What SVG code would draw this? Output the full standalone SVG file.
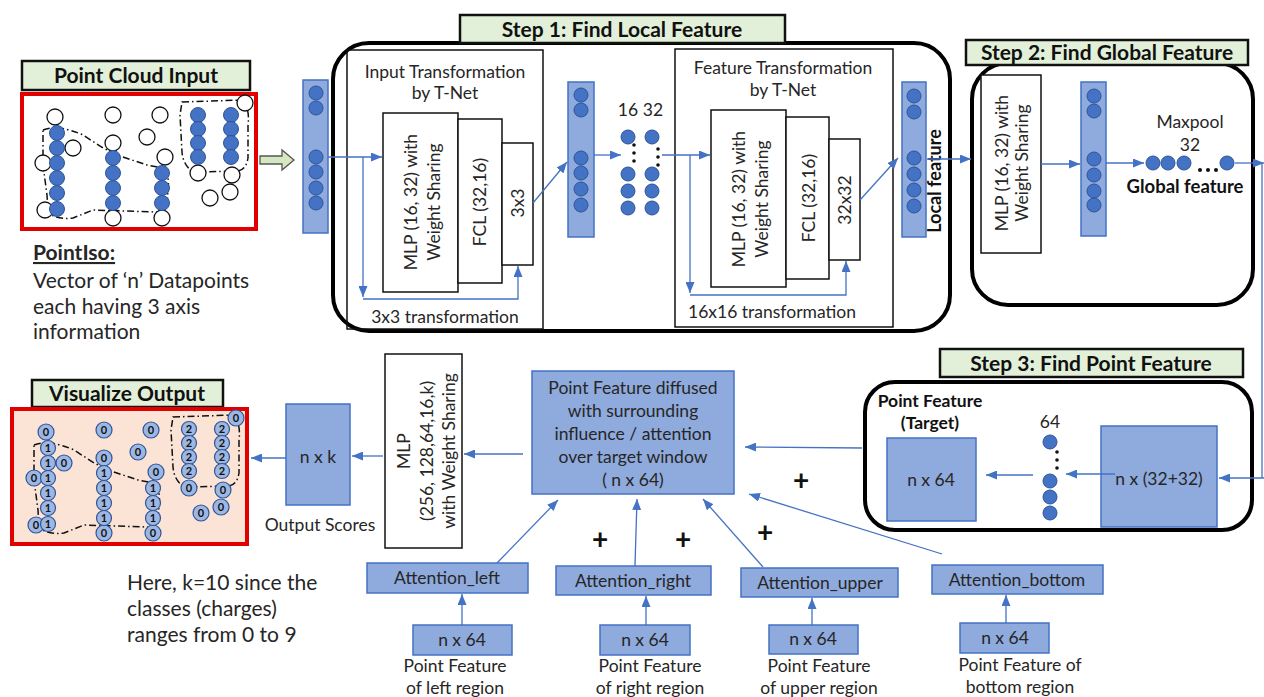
<svg xmlns="http://www.w3.org/2000/svg" width="1264" height="697" viewBox="0 0 1264 697">
<style>
text{font-family:Lato,"Liberation Sans",sans-serif;fill:#262626}
.t{font-size:17.5px;text-anchor:middle}
.tl{font-size:21px}
.hdr{fill:#e2f0d9;stroke:#111;stroke-width:2.5}
.ht{font-size:21px;font-weight:bold;text-anchor:middle;fill:#111}
.grp{fill:none;stroke:#000;stroke-width:4}
.wbox{fill:#fff;stroke:#111;stroke-width:1.5}
.bbox{fill:#8faadc;stroke:#4472c4;stroke-width:1.5}
.dot{fill:#4472c4;stroke:#2f5597;stroke-width:1}
.odot{fill:#fff;stroke:#111;stroke-width:1.3}
.vdot{fill:#9db7e3;stroke:#2f5597;stroke-width:1.2}
.bk{fill:#111}
.dg{font-size:11px;font-weight:bold;text-anchor:middle;fill:#111}
.dash{fill:none;stroke:#111;stroke-width:1.5;stroke-dasharray:7 3 1.5 3}
.conn{fill:none;stroke:#4472c4;stroke-width:1.3;marker-end:url(#ah)}
.line{fill:none;stroke:#4472c4;stroke-width:1.3}
.plus{font-size:28px;font-weight:bold;text-anchor:middle;fill:#111}
.b{font-weight:bold}
</style>
<defs>
<marker id="ah" markerUnits="userSpaceOnUse" markerWidth="11" markerHeight="9" refX="11" refY="4.5" orient="auto">
<path d="M0,0 L11,4.5 L0,9 Z" fill="#4472c4"/>
</marker>
<g id="cloud">
<path class="dash" d="M43,130 Q58,124 83,135 L103,148 L117,155 L147,165 L163,168 Q170,175 168,190 L167,205 Q165,212 157,212 L93,210 L73,218 Q55,220 48,212 L47,195 L43,165 Z"/>
<path class="dash" d="M182,102 L243,100 Q250,110 248,125 L248,158 Q246,170 238,171 L193,172 Q183,165 182,152 L180,115 Z"/>
</g>
</defs>

<!-- Point cloud input -->
<g id="point-cloud-input">
<rect class="hdr" x="22" y="61" width="228" height="29"/>
<text class="ht" x="136" y="83">Point Cloud Input</text>
<rect x="22" y="94" width="234" height="135" fill="#fff" stroke="#e00000" stroke-width="4"/>
<use href="#cloud"/>
<g class="odot">
<circle cx="55" cy="117" r="8"/><circle cx="113" cy="115" r="8"/><circle cx="160" cy="115" r="8"/><circle cx="147" cy="137" r="8"/><circle cx="113" cy="143" r="8"/><circle cx="73" cy="148" r="8"/><circle cx="43" cy="163" r="8"/><circle cx="165" cy="157" r="8"/><circle cx="245" cy="103" r="8"/><circle cx="198" cy="173" r="8"/><circle cx="232" cy="175" r="8"/><circle cx="230" cy="192" r="8"/><circle cx="210" cy="198" r="8"/><circle cx="45" cy="210" r="8"/><circle cx="113" cy="218" r="8"/><circle cx="162" cy="218" r="8"/>
</g>
<g class="dot">
<circle cx="57" cy="133" r="7.5"/><circle cx="57" cy="148" r="7.5"/><circle cx="57" cy="163" r="7.5"/><circle cx="57" cy="178" r="7.5"/><circle cx="57" cy="193" r="7.5"/><circle cx="57" cy="209" r="7.5"/>
<circle cx="113" cy="158" r="7.5"/><circle cx="113" cy="173" r="7.5"/><circle cx="113" cy="188" r="7.5"/><circle cx="113" cy="203" r="7.5"/>
<circle cx="162" cy="173" r="7.5"/><circle cx="162" cy="188" r="7.5"/><circle cx="162" cy="203" r="7.5"/>
<circle cx="198" cy="115" r="7.5"/><circle cx="198" cy="129" r="7.5"/><circle cx="198" cy="143" r="7.5"/><circle cx="198" cy="157" r="7.5"/>
<circle cx="231" cy="115" r="7.5"/><circle cx="231" cy="129" r="7.5"/><circle cx="231" cy="143" r="7.5"/><circle cx="231" cy="157" r="7.5"/>
</g>
<path d="M260,156 H282 V150 L294,160 L282,170 V164 H260 Z" fill="#d5e8c4" stroke="#555" stroke-width="1.3"/>
</g>

<g id="pointiso-text">
<text class="tl b" x="33" y="260" text-decoration="underline">PointIso:</text>
<text class="tl" x="33" y="288">Vector of ‘n’ Datapoints</text>
<text class="tl" x="33" y="314">each having 3 axis</text>
<text class="tl" x="33" y="339">information</text>
</g>

<!-- input bar -->
<g id="input-bar">
<rect class="bbox" x="303" y="80" width="25" height="153"/>
<g class="dot"><circle cx="316" cy="93" r="7"/><circle cx="316" cy="108" r="7"/><circle cx="316" cy="157" r="7"/><circle cx="316" cy="172" r="7"/><circle cx="316" cy="188" r="7"/><circle cx="316" cy="203" r="7"/></g>
</g>

<!-- Step 1 -->
<g id="step1">
<rect class="grp" x="333" y="43" width="617" height="288" rx="36"/>
<rect class="hdr" x="460" y="15" width="325" height="28"/>
<text class="ht" x="622" y="37">Step 1: Find Local Feature</text>
</g>

<g id="input-transformation">
<rect x="347" y="50" width="196" height="279" fill="none" stroke="#111" stroke-width="1.5"/>
<text class="t" x="445" y="78">Input Transformation</text>
<text class="t" x="445" y="99">by T-Net</text>
<rect class="wbox" x="383" y="113" width="75" height="179"/>
<rect class="wbox" x="458" y="119" width="44" height="164"/>
<rect class="wbox" x="502" y="143" width="31" height="122"/>
<text class="t" transform="translate(417,202) rotate(-90)">MLP (16, 32) with</text>
<text class="t" transform="translate(440,202) rotate(-90)">Weight Sharing</text>
<text class="t" transform="translate(486,202) rotate(-90)">FCL (32,16)</text>
<text class="t" transform="translate(524,203) rotate(-90)">3x3</text>
<text class="t" x="445" y="323">3x3 transformation</text>
</g>

<g id="bar2">
<rect class="bbox" x="568" y="82" width="26" height="155"/>
<g class="dot"><circle cx="581" cy="95" r="7"/><circle cx="581" cy="110" r="7"/><circle cx="581" cy="158" r="7"/><circle cx="581" cy="173" r="7"/><circle cx="581" cy="189" r="7"/><circle cx="581" cy="205" r="7"/></g>
</g>

<g id="dots-16-32">
<text class="t" x="628" y="116">16</text>
<text class="t" x="653" y="116">32</text>
<g class="dot"><circle cx="628" cy="137" r="7"/><circle cx="628" cy="174" r="7"/><circle cx="628" cy="191" r="7"/><circle cx="628" cy="208" r="7"/>
<circle cx="652" cy="137" r="7"/><circle cx="652" cy="174" r="7"/><circle cx="652" cy="191" r="7"/><circle cx="652" cy="208" r="7"/></g>
<g class="bk"><circle cx="634" cy="145" r="1.8"/><circle cx="634" cy="153" r="1.8"/><circle cx="634" cy="161" r="1.8"/>
<circle cx="658" cy="149" r="1.8"/><circle cx="658" cy="157" r="1.8"/><circle cx="658" cy="165" r="1.8"/></g>
</g>

<g id="feature-transformation">
<rect x="675" y="49" width="218" height="278" fill="none" stroke="#111" stroke-width="1.5"/>
<text class="t" x="783" y="74">Feature Transformation</text>
<text class="t" x="783" y="96">by T-Net</text>
<rect class="wbox" x="711" y="110" width="75" height="177"/>
<rect class="wbox" x="786" y="117" width="43" height="162"/>
<rect class="wbox" x="829" y="139" width="31" height="121"/>
<text class="t" transform="translate(745,199) rotate(-90)">MLP (16, 32) with</text>
<text class="t" transform="translate(768,199) rotate(-90)">Weight Sharing</text>
<text class="t" transform="translate(815,198) rotate(-90)">FCL (32,16)</text>
<text class="t" transform="translate(851,200) rotate(-90)">32x32</text>
<text class="t" x="772" y="318">16x16 transformation</text>
</g>

<g id="local-feature">
<rect class="bbox" x="902" y="82" width="24" height="155"/>
<g class="dot"><circle cx="914" cy="96" r="7"/><circle cx="914" cy="112" r="7"/><circle cx="914" cy="158" r="7"/><circle cx="914" cy="174" r="7"/><circle cx="914" cy="190" r="7"/><circle cx="914" cy="206" r="7"/></g>
<text class="t b" style="font-size:18px;fill:#111" transform="translate(941,181) rotate(-90)">Local feature</text>
</g>

<!-- Step 2 -->
<g id="step2">
<rect class="grp" x="972" y="63" width="281" height="242" rx="36"/>
<rect class="hdr" x="966" y="40" width="282" height="25"/>
<text class="ht" x="1107" y="60">Step 2: Find Global Feature</text>
<rect class="wbox" x="981" y="75" width="60" height="178"/>
<text class="t" transform="translate(1008,163) rotate(-90)">MLP (16, 32) with</text>
<text class="t" transform="translate(1028,163) rotate(-90)">Weight Sharing</text>
<rect class="bbox" x="1081" y="82" width="25" height="154"/>
<g class="dot"><circle cx="1094" cy="96" r="7"/><circle cx="1094" cy="111" r="7"/><circle cx="1094" cy="159" r="7"/><circle cx="1094" cy="175" r="7"/><circle cx="1094" cy="191" r="7"/><circle cx="1094" cy="205" r="7"/></g>
<text class="t" x="1190" y="128">Maxpool</text>
<text class="t" x="1190" y="151">32</text>
<g class="dot"><circle cx="1153" cy="163" r="7"/><circle cx="1168" cy="163" r="7"/><circle cx="1184" cy="163" r="7"/><circle cx="1227" cy="163" r="7"/></g>
<g class="bk"><circle cx="1200" cy="170" r="2"/><circle cx="1208" cy="170" r="2"/><circle cx="1216" cy="170" r="2"/></g>
<text class="t b" style="font-size:18.5px;fill:#111" x="1185" y="193">Global feature</text>
</g>

<!-- Step 3 -->
<g id="step3">
<rect class="grp" x="865" y="382" width="387" height="148" rx="30"/>
<rect class="hdr" x="940" y="349" width="303" height="28"/>
<text class="ht" x="1091" y="371">Step 3: Find Point Feature</text>
<text class="t b" style="fill:#111" x="930" y="407">Point Feature</text>
<text class="t b" style="fill:#111" x="930" y="429">(Target)</text>
<rect class="bbox" x="887" y="438" width="89" height="83"/>
<text class="t" x="931" y="486">n x 64</text>
<text class="t" x="1050" y="428">64</text>
<g class="dot"><circle cx="1050" cy="442" r="7"/><circle cx="1050" cy="481" r="7"/><circle cx="1050" cy="497" r="7"/><circle cx="1050" cy="513" r="7"/></g>
<g class="bk"><circle cx="1057" cy="452" r="1.8"/><circle cx="1057" cy="460" r="1.8"/><circle cx="1057" cy="468" r="1.8"/></g>
<rect class="bbox" x="1101" y="426" width="116" height="101"/>
<text class="t" x="1159" y="485">n x (32+32)</text>
</g>

<!-- diffusion -->
<g id="diffusion">
<rect class="bbox" x="532" y="371" width="202" height="123"/>
<text class="t" x="633" y="394">Point Feature diffused</text>
<text class="t" x="633" y="417">with surrounding</text>
<text class="t" x="633" y="440">influence / attention</text>
<text class="t" x="633" y="463">over target window</text>
<text class="t" x="633" y="486">( n x 64)</text>
</g>

<g id="mlp-out">
<rect class="wbox" x="385" y="354" width="77" height="194"/>
<text class="t" transform="translate(410,451) rotate(-90)">MLP</text>
<text class="t" transform="translate(433,451) rotate(-90)">(256, 128,64,16,k)</text>
<text class="t" transform="translate(455,451) rotate(-90)">with Weight Sharing</text>
</g>

<g id="output-scores">
<rect class="bbox" x="286" y="404" width="64" height="101"/>
<text class="t" x="318" y="463">n x k</text>
<text class="t" x="320" y="531">Output Scores</text>
</g>

<!-- Visualize Output -->
<g id="visualize-output">
<rect class="hdr" x="32" y="380" width="191" height="27"/>
<text class="ht" x="127" y="401">Visualize Output</text>
<rect x="12" y="409" width="235" height="135" fill="#fbe3d5" stroke="#e00000" stroke-width="4"/>
<use href="#cloud" transform="translate(-9,315)"/>
<g class="vdot">
<circle cx="46" cy="432" r="8"/><circle cx="104" cy="430" r="8"/><circle cx="151" cy="430" r="8"/><circle cx="138" cy="452" r="8"/><circle cx="104" cy="458" r="8"/><circle cx="64" cy="463" r="8"/><circle cx="34" cy="478" r="8"/><circle cx="156" cy="472" r="8"/><circle cx="236" cy="418" r="8"/><circle cx="189" cy="488" r="8"/><circle cx="223" cy="490" r="8"/><circle cx="221" cy="507" r="8"/><circle cx="201" cy="513" r="8"/><circle cx="36" cy="525" r="8"/><circle cx="104" cy="533" r="8"/><circle cx="153" cy="533" r="8"/>
<circle cx="48" cy="448" r="7.5"/><circle cx="48" cy="463" r="7.5"/><circle cx="48" cy="478" r="7.5"/><circle cx="48" cy="493" r="7.5"/><circle cx="48" cy="508" r="7.5"/><circle cx="48" cy="524" r="7.5"/>
<circle cx="104" cy="473" r="7.5"/><circle cx="104" cy="488" r="7.5"/><circle cx="104" cy="503" r="7.5"/><circle cx="104" cy="518" r="7.5"/>
<circle cx="153" cy="488" r="7.5"/><circle cx="153" cy="503" r="7.5"/><circle cx="153" cy="518" r="7.5"/>
<circle cx="189" cy="429" r="7.5"/><circle cx="189" cy="443" r="7.5"/><circle cx="189" cy="457" r="7.5"/><circle cx="189" cy="471" r="7.5"/>
<circle cx="222" cy="429" r="7.5"/><circle cx="222" cy="443" r="7.5"/><circle cx="222" cy="457" r="7.5"/><circle cx="222" cy="471" r="7.5"/>
</g>
<g>
<text class="dg" x="46" y="436">0</text><text class="dg" x="104" y="434">0</text><text class="dg" x="151" y="434">0</text><text class="dg" x="138" y="456">0</text><text class="dg" x="104" y="462">0</text><text class="dg" x="64" y="467">0</text><text class="dg" x="34" y="482">0</text><text class="dg" x="156" y="476">0</text><text class="dg" x="236" y="422">0</text><text class="dg" x="189" y="492">0</text><text class="dg" x="223" y="494">0</text><text class="dg" x="221" y="511">0</text><text class="dg" x="201" y="517">0</text><text class="dg" x="36" y="529">0</text><text class="dg" x="104" y="537">0</text><text class="dg" x="153" y="537">0</text>
<text class="dg" x="48" y="452">1</text><text class="dg" x="48" y="467">1</text><text class="dg" x="48" y="482">1</text><text class="dg" x="48" y="497">1</text><text class="dg" x="48" y="512">1</text><text class="dg" x="48" y="528">1</text>
<text class="dg" x="104" y="477">1</text><text class="dg" x="104" y="492">1</text><text class="dg" x="104" y="507">1</text><text class="dg" x="104" y="522">1</text>
<text class="dg" x="153" y="492">1</text><text class="dg" x="153" y="507">1</text><text class="dg" x="153" y="522">1</text>
<text class="dg" x="189" y="433">2</text><text class="dg" x="189" y="447">2</text><text class="dg" x="189" y="461">2</text><text class="dg" x="189" y="475">2</text>
<text class="dg" x="222" y="433">2</text><text class="dg" x="222" y="447">2</text><text class="dg" x="222" y="461">2</text><text class="dg" x="222" y="475">2</text>
</g>
</g>

<g id="k-note">
<text class="tl" x="127" y="590">Here, k=10 since the</text>
<text class="tl" x="127" y="616">classes (charges)</text>
<text class="tl" x="127" y="642">ranges from 0 to 9</text>
</g>

<!-- attention -->
<g id="attention-left">
<rect class="bbox" x="367" y="563" width="161" height="30"/>
<text class="t" x="447" y="584">Attention_left</text>
<rect class="bbox" x="413" y="625" width="99" height="30"/>
<text class="t" x="462" y="646">n x 64</text>
<text class="t" x="455" y="672">Point Feature</text>
<text class="t" x="455" y="694">of left region</text>
</g>
<g id="attention-right">
<rect class="bbox" x="556" y="566" width="155" height="29"/>
<text class="t" x="633" y="587">Attention_right</text>
<rect class="bbox" x="600" y="625" width="90" height="30"/>
<text class="t" x="645" y="646">n x 64</text>
<text class="t" x="650" y="672">Point Feature</text>
<text class="t" x="650" y="694">of right region</text>
</g>
<g id="attention-upper">
<rect class="bbox" x="741" y="568" width="157" height="29"/>
<text class="t" x="820" y="589">Attention_upper</text>
<rect class="bbox" x="769" y="625" width="89" height="29"/>
<text class="t" x="813" y="645">n x 64</text>
<text class="t" x="819" y="672">Point Feature</text>
<text class="t" x="819" y="694">of upper region</text>
</g>
<g id="attention-bottom">
<rect class="bbox" x="932" y="565" width="171" height="29"/>
<text class="t" x="1017" y="586">Attention_bottom</text>
<rect class="bbox" x="960" y="623" width="89" height="30"/>
<text class="t" x="1005" y="644">n x 64</text>
<text class="t" x="1020" y="671">Point Feature of</text>
<text class="t" x="1020" y="693">bottom region</text>
</g>

<g id="plus-signs">
<text class="plus" x="600" y="549">+</text>
<text class="plus" x="683" y="549">+</text>
<text class="plus" x="765" y="542">+</text>
<text class="plus" x="801" y="490">+</text>
</g>

<!-- connectors -->
<g id="connectors">
<path class="conn" d="M328,157 H382"/>
<path class="conn" d="M363,157 V297"/>
<path class="conn" d="M363,299 H518 V266"/>
<path class="conn" d="M533,203 L567,162"/>
<path class="conn" d="M594,155 H621"/>
<path class="conn" d="M662,155 H710"/>
<path class="conn" d="M690,155 V293"/>
<path class="conn" d="M690,295 H846 V261"/>
<path class="conn" d="M860,200 L898,158"/>
<path class="conn" d="M927,159 H971"/>
<path class="conn" d="M1041,164 H1080"/>
<path class="conn" d="M1106,163 H1144"/>
<path class="conn" d="M1235,163 H1264"/>
<path class="line" d="M1262,163 V478"/>
<path class="conn" d="M1264,478 H1219"/>
<path class="conn" d="M1115,474 H1066"/>
<path class="conn" d="M1033,475 H986"/>
<path class="conn" d="M862,448 L745,447"/>
<path class="conn" d="M523,454 H464"/>
<path class="conn" d="M383,456 H352"/>
<path class="conn" d="M286,458 H251"/>
<path class="conn" d="M497,563 L558,500"/>
<path class="conn" d="M635,566 L637,499"/>
<path class="conn" d="M763,567 L703,499"/>
<path class="conn" d="M942,554 L749,494"/>
<path class="conn" d="M462,625 V594"/>
<path class="conn" d="M646,625 V596"/>
<path class="conn" d="M812,625 V598"/>
<path class="conn" d="M1006,623 V595"/>
</g>
</svg>
